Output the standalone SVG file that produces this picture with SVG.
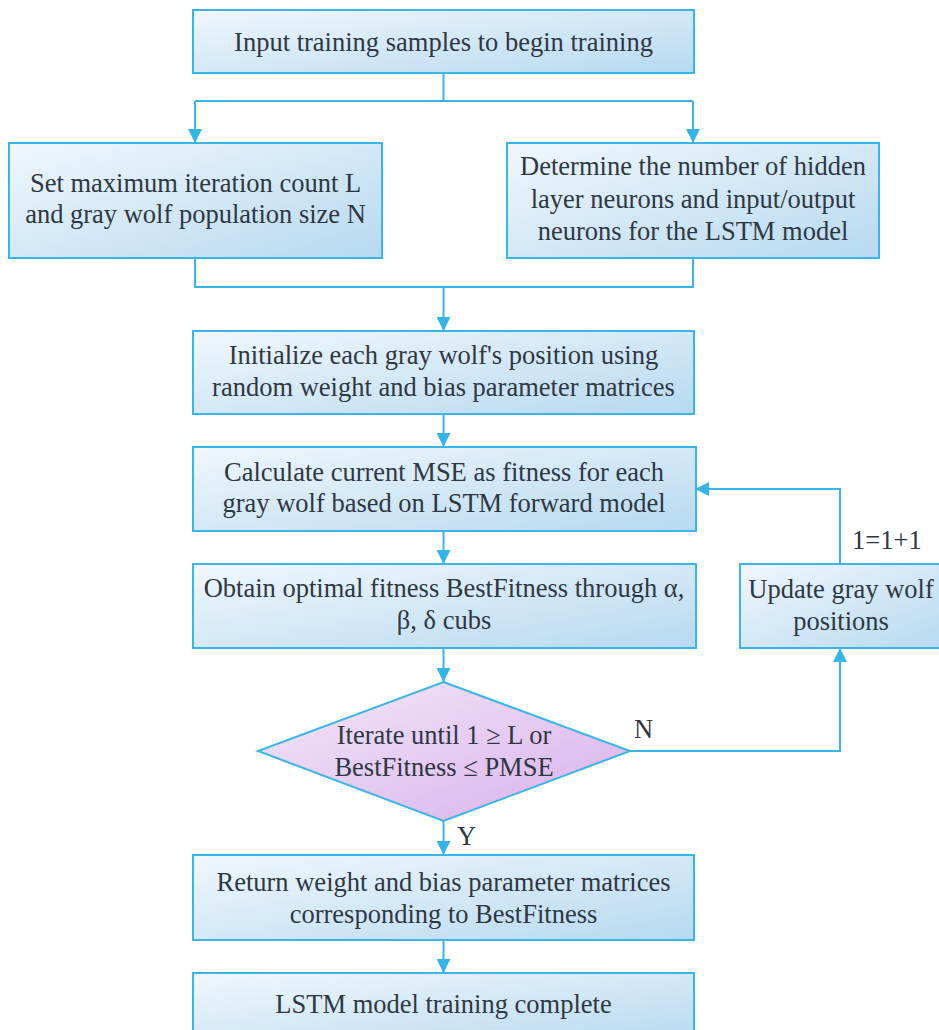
<svg xmlns="http://www.w3.org/2000/svg" width="939" height="1030" viewBox="0 0 939 1030">
  <style>
    .box { fill: url(#boxFill); stroke: #3cb5e6; stroke-width: 2; }
    .dec { fill: url(#decFill); stroke: #3cb5e6; stroke-width: 2; }
    .lbl { font-family: "Liberation Serif", "Times New Roman", serif; font-size: 26.5px; fill: #2e3744; text-anchor: middle; }
    .tag { font-family: "Liberation Serif", "Times New Roman", serif; font-size: 26.5px; fill: #2e3744; }
    .wire { fill: none; stroke: #3cb5e6; stroke-width: 2; }
  </style>
  <defs>
    <linearGradient id="boxFill" x1="0" y1="0" x2="1" y2="1">
      <stop offset="0" stop-color="#f0f7fd"/>
      <stop offset="1" stop-color="#b7d9f0"/>
    </linearGradient>
    <linearGradient id="decFill" x1="0" y1="0" x2="1" y2="1">
      <stop offset="0" stop-color="#f3e9fa"/>
      <stop offset="1" stop-color="#d9afeb"/>
    </linearGradient>
    <marker id="arrow" viewBox="0 0 14 14" refX="14" refY="7" markerWidth="14" markerHeight="14" markerUnits="userSpaceOnUse" orient="auto">
      <path d="M0,0 L14,7 L0,14 Z" fill="#36b4e6"/>
    </marker>
  </defs>

  <!-- connectors -->
  <g id="connectors">
    <path class="wire" d="M443.5,73 V101 M195,101 H693" />
    <path class="wire" d="M195,101 V143" marker-end="url(#arrow)"/>
    <path class="wire" d="M693,101 V143" marker-end="url(#arrow)"/>
    <path class="wire" d="M195,258 V287 H693 V258"/>
    <path class="wire" d="M443.5,287 V331" marker-end="url(#arrow)"/>
    <path class="wire" d="M443.5,414 V447" marker-end="url(#arrow)"/>
    <path class="wire" d="M443.5,531 V564" marker-end="url(#arrow)"/>
    <path class="wire" d="M443.5,648 V682" marker-end="url(#arrow)"/>
    <path class="wire" d="M443.5,821 V855" marker-end="url(#arrow)"/>
    <path class="wire" d="M443.5,940 V973" marker-end="url(#arrow)"/>
    <path class="wire" d="M630,751 H840 V648" marker-end="url(#arrow)"/>
    <path class="wire" d="M840,564 V489 H695" marker-end="url(#arrow)"/>
    <text class="tag" x="457" y="845">Y</text>
    <text class="tag" x="634" y="738">N</text>
    <text class="tag" x="852" y="549">1=1+1</text>
  </g>

  <g id="start">
    <rect class="box" x="193" y="10" width="501" height="63"/>
    <text class="lbl" x="443.5" y="51">Input training samples to begin training</text>
  </g>

  <g id="set-params">
    <rect class="box" x="9" y="143" width="373" height="115"/>
    <text class="lbl" x="195.5" y="192">Set maximum iteration count L</text>
    <text class="lbl" x="195.5" y="223">and gray wolf population size N</text>
  </g>

  <g id="network-size">
    <rect class="box" x="507" y="143" width="372" height="115"/>
    <text class="lbl" x="693" y="175">Determine the number of hidden</text>
    <text class="lbl" x="693" y="207.5">layer neurons and input/output</text>
    <text class="lbl" x="693" y="240">neurons for the LSTM model</text>
  </g>

  <g id="init-positions">
    <rect class="box" x="193" y="331" width="501" height="83"/>
    <text class="lbl" x="443.5" y="364">Initialize each gray wolf's position using</text>
    <text class="lbl" x="443.5" y="396">random weight and bias parameter matrices</text>
  </g>

  <g id="fitness">
    <rect class="box" x="193" y="447" width="503" height="84"/>
    <text class="lbl" x="444" y="481">Calculate current MSE as fitness for each</text>
    <text class="lbl" x="444" y="512">gray wolf based on LSTM forward model</text>
  </g>

  <g id="best-fitness">
    <rect class="box" x="193" y="564" width="503" height="84"/>
    <text class="lbl" x="444" y="597">Obtain optimal fitness BestFitness through α,</text>
    <text class="lbl" x="444" y="629">β, δ cubs</text>
  </g>

  <g id="update">
    <rect class="box" x="740" y="564" width="201" height="84"/>
    <text class="lbl" x="841" y="598">Update gray wolf</text>
    <text class="lbl" x="841" y="630">positions</text>
  </g>

  <g id="check">
    <polygon class="dec" points="443.5,682 630,751 443.5,821 258,751"/>
    <text class="lbl" x="444" y="744">Iterate until 1 ≥ L or</text>
    <text class="lbl" x="444" y="776">BestFitness ≤ PMSE</text>
  </g>

  <g id="return-best">
    <rect class="box" x="193" y="855" width="501" height="85"/>
    <text class="lbl" x="443.5" y="891">Return weight and bias parameter matrices</text>
    <text class="lbl" x="443.5" y="923">corresponding to BestFitness</text>
  </g>

  <g id="done">
    <rect class="box" x="193" y="973" width="501" height="70"/>
    <text class="lbl" x="443.5" y="1013">LSTM model training complete</text>
  </g>
</svg>
